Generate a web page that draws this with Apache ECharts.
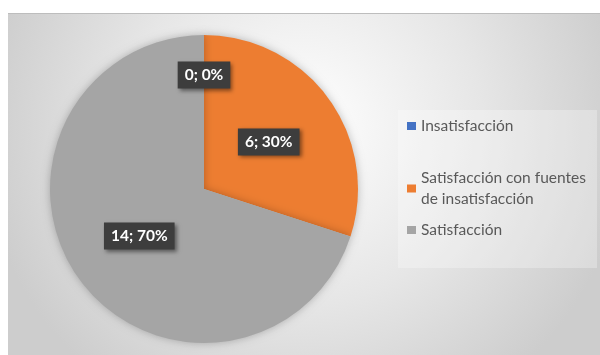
<!DOCTYPE html>
<html>
<head>
<meta charset="utf-8">
<script src="https://cdn.jsdelivr.net/npm/echarts@6/dist/echarts.min.js"></script>
<style>
  html, body { margin: 0; padding: 0; background: #ffffff; }
  #chart { width: 600px; height: 355px; }
</style>
</head>
<body>
<div id="chart"></div>
<script>
// Survey result: satisfaction levels (count per category)
const categories = ['Insatisfacción', 'Satisfacción con fuentes de insatisfacción', 'Satisfacción'];
const legendLabels = ['Insatisfacción', 'Satisfacción con fuentes\nde insatisfacción', 'Satisfacción'];
const counts = [0, 6, 14];
const colors = ['#4472c4', '#ed7d31', '#a5a5a5'];

const total = counts.reduce((a, b) => a + b, 0);
const chart = echarts.init(document.getElementById('chart'), null, { renderer: 'canvas' });

const labelBox = {
  show: true,
  position: 'inside',
  formatter: p => p.value + '; ' + Math.round(p.value / total * 100) + '%',
  color: '#ffffff',
  fontFamily: 'Lato',
  fontWeight: 'bold',
  fontSize: 15.5,
  backgroundColor: '#3d3d3d',
  padding: [6, 7, 5, 7],
  shadowColor: 'rgba(0,0,0,0.45)',
  shadowBlur: 4,
  shadowOffsetX: 2,
  shadowOffsetY: 2
};

const seriesData = categories.map((name, i) => {
  const item = { name: name, value: counts[i], itemStyle: { color: colors[i] } };
  if (counts[i] === 0) {
    item.label = { offset: [0, -34] };
  }
  return item;
});

// one legend block per entry so the wrapped entry keeps its own spacing
const legendCenters = [126, 188.5, 230];
const legendLineHeight = 21;
const legends = categories.map((name, i) => ({
  data: [name],
  orient: 'vertical',
  left: 407,
  top: legendCenters[i] - (legendLabels[i].split('\n').length * legendLineHeight) / 2,
  padding: 0,
  itemWidth: 9,
  itemHeight: 8,
  icon: 'rect',
  selectedMode: false,
  formatter: n => legendLabels[categories.indexOf(n)],
  textStyle: {
    color: '#595959',
    fontFamily: 'Lato',
    fontSize: 15.5,
    lineHeight: legendLineHeight
  }
}));

chart.setOption({
  backgroundColor: '#ffffff',
  animation: false,
  graphic: [
    {
      type: 'rect',
      z: -10,
      silent: true,
      shape: { x: 8, y: 13, width: 592, height: 342 },
      style: {
        fill: new echarts.graphic.RadialGradient(0.5, 0.33, 0.95, [
          { offset: 0, color: '#ffffff' },
          { offset: 0.55, color: '#e6e6e6' },
          { offset: 1, color: '#cdcdcd' }
        ])
      }
    },
    {
      type: 'line',
      z: -9,
      silent: true,
      shape: { x1: 8, y1: 13.5, x2: 600, y2: 13.5 },
      style: { stroke: '#bdbdbd', lineWidth: 1 }
    },
    {
      type: 'rect',
      z: -8,
      silent: true,
      shape: { x: 398, y: 110, width: 199, height: 158 },
      style: { fill: 'rgba(255,255,255,0.28)' }
    }
  ],
  legend: legends,
  series: [{
    type: 'pie',
    center: [204, 189],
    radius: [0, 154],
    startAngle: 90,
    clockwise: true,
    silent: true,
    label: labelBox,
    labelLine: { show: false },
    itemStyle: {
      borderWidth: 0,
      shadowColor: 'rgba(0,0,0,0.25)',
      shadowBlur: 8
    },
    data: seriesData
  }]
});
</script>
</body>
</html>
